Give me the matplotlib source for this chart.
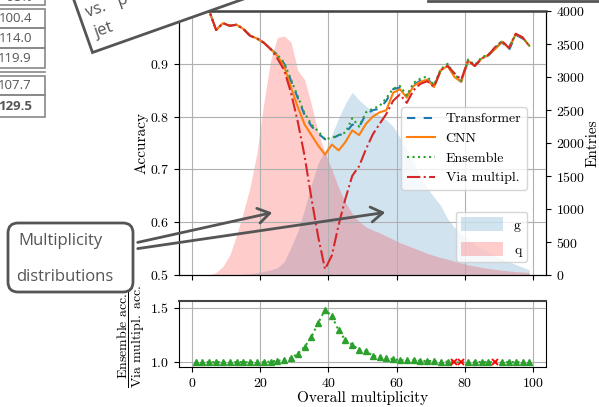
import numpy as np
import matplotlib
matplotlib.use("Agg")
import matplotlib.pyplot as plt
from matplotlib.patches import Polygon, FancyBboxPatch, FancyArrowPatch, Rectangle
from matplotlib.lines import Line2D
from matplotlib.transforms import Affine2D

plt.rcParams["font.family"] = "serif"
plt.rcParams["font.serif"] = ["cmr10"]
plt.rcParams["mathtext.fontset"] = "cm"
plt.rcParams["axes.formatter.use_mathtext"] = True
plt.rcParams["axes.unicode_minus"] = False

# bin centres of the overall multiplicity
mult = np.arange(1, 100, 2)

# accuracy per multiplicity bin
transformer = [1.0, 1.0, 1.0, 0.964, 0.977, 0.972, 0.974, 0.966, 0.953, 0.948, 0.940, 0.928,
               0.917, 0.900, 0.868, 0.835, 0.803, 0.782, 0.768, 0.757, 0.758, 0.765, 0.768, 0.785,
               0.780, 0.805, 0.812, 0.815, 0.830, 0.852, 0.855, 0.838, 0.860, 0.868, 0.872, 0.858,
               0.888, 0.897, 0.876, 0.866, 0.905, 0.896, 0.910, 0.916, 0.928, 0.941, 0.925, 0.955,
               0.948, 0.940]
cnn = [1.0, 1.0, 1.0, 0.964, 0.977, 0.972, 0.974, 0.966, 0.953, 0.948, 0.940, 0.928,
       0.915, 0.895, 0.855, 0.818, 0.785, 0.765, 0.745, 0.728, 0.747, 0.736, 0.752, 0.774,
       0.765, 0.786, 0.800, 0.808, 0.812, 0.845, 0.852, 0.836, 0.858, 0.866, 0.870, 0.856,
       0.888, 0.896, 0.875, 0.866, 0.906, 0.896, 0.910, 0.917, 0.928, 0.942, 0.930, 0.956,
       0.950, 0.934]
ensemble = [1.0, 1.0, 1.0, 0.964, 0.977, 0.972, 0.974, 0.966, 0.953, 0.948, 0.940, 0.928,
            0.917, 0.902, 0.870, 0.838, 0.806, 0.785, 0.772, 0.757, 0.760, 0.765, 0.770, 0.797,
            0.781, 0.808, 0.815, 0.820, 0.835, 0.853, 0.858, 0.840, 0.864, 0.872, 0.876, 0.860,
            0.890, 0.900, 0.880, 0.868, 0.908, 0.898, 0.912, 0.918, 0.930, 0.943, 0.930, 0.956,
            0.950, 0.934]
via_mult = [1.0, 1.0, 1.0, 0.964, 0.977, 0.972, 0.974, 0.966, 0.953, 0.948, 0.940, 0.928,
            0.910, 0.888, 0.845, 0.790, 0.725, 0.645, 0.572, 0.511, 0.537, 0.595, 0.645, 0.688,
            0.706, 0.738, 0.766, 0.786, 0.805, 0.830, 0.842, 0.826, 0.850, 0.862, 0.867, 0.856,
            0.888, 0.896, 0.882, 0.870, 0.906, 0.896, 0.910, 0.917, 0.932, 0.943, 0.930, 0.957,
            0.950, 0.934]

# ensemble / via-multiplicity accuracy ratio (lower panel)
ratio = [1.0, 1.0, 1.0, 1.0, 1.0, 1.0, 1.0, 1.0, 1.0, 1.0, 1.0, 1.005,
         1.012, 1.02, 1.036, 1.078, 1.14, 1.23, 1.36, 1.48, 1.42, 1.29, 1.20, 1.16,
         1.11, 1.10, 1.06, 1.045, 1.037, 1.027, 1.018, 1.015, 1.018, 1.012, 1.01, 1.008,
         1.005, 1.004, 0.998, 0.998, 1.002, 1.002, 1.001, 1.001, 0.998, 1.001, 1.0, 1.0,
         1.0, 1.0]

# multiplicity distributions (entries)
g_counts = [0, 0, 0, 0, 0, 0, 5, 10, 20, 35, 55, 80,
            110, 200, 420, 660, 1000, 1370, 1700, 1880, 2130, 2380, 2600, 2770,
            2650, 2560, 2480, 2420, 2350, 2250, 2080, 1900, 1700, 1500, 1320, 1180,
            1050, 850, 720, 620, 540, 460, 400, 340, 290, 240, 200, 160,
            120, 80]
q_counts = [0, 0, 0, 40, 130, 300, 600, 950, 1340, 1850, 2600, 3250,
            3600, 3620, 3530, 3100, 2960, 2580, 2160, 1850, 1600, 1320, 1100, 930,
            810, 730, 680, 640, 590, 540, 490, 450, 410, 370, 330, 295,
            265, 240, 210, 180, 155, 135, 115, 100, 85, 72, 62, 52,
            45, 38]

table_vals = ["100.4", "114.0", "119.9", "107.7", "129.5"]

W, H = 599, 407
fig = plt.figure(figsize=(W / 100, H / 100), dpi=100)
# pixel coords of the picture (y down) -> display
T = Affine2D().scale(1 / 100, -1 / 100).translate(0, H / 100) + fig.dpi_scale_trans


def frac(l, t, r, b):
    return [l / W, 1 - b / H, (r - l) / W, (b - t) / H]


ax = fig.add_axes(frac(179, 11, 546, 275))
axr = fig.add_axes(frac(179, 301, 546, 367))
ax2 = ax.twinx()
ax.set_zorder(ax2.get_zorder() + 1)
ax.patch.set_visible(False)

# distributions
fg = ax2.fill_between(mult, g_counts, color="C0", alpha=0.2, lw=0)
fq = ax2.fill_between(mult, q_counts, color="red", alpha=0.2, lw=0)
ax2.set_ylim(0, 4000)
ax2.set_yticks(range(0, 4001, 500))
ax2.set_ylabel("Entries", fontsize=11, labelpad=1)
ax2.tick_params(labelsize=10)

# accuracies
ax.plot(mult, transformer, color="C0", ls=(0, (4, 4)), lw=1.5, label="Transformer")
ax.plot(mult, cnn, color="C1", lw=1.5, label="CNN")
ax.plot(mult, ensemble, color="C2", ls=":", lw=1.5, label="Ensemble")
ax.plot(mult, via_mult, color="C3", ls="-.", lw=1.5, label="Via multipl.")
ax.set_xlim(-3.9, 103.9)
ax.set_ylim(0.5, 1.0)
ax.set_xticks(range(0, 101, 20))
ax.tick_params(labelbottom=False, labelsize=10)
ax.grid(True)
ax.set_ylabel("Accuracy", fontsize=11, labelpad=1)
ax.spines["top"].set_color("#444")
ax.spines["top"].set_linewidth(1.8)

leg1 = ax.legend(loc="upper right", bbox_to_anchor=(0.948, 0.636), borderaxespad=0, fontsize=10)
ax.add_artist(leg1)
ax.legend([fg, fq], ["g", "q"], loc="lower right", bbox_to_anchor=(0.948, 0.049),
          borderaxespad=0, fontsize=10, handlelength=3.0, handleheight=1.2, labelspacing=0.7)

# ratio panel
ratio = np.array(ratio)
ok = ratio >= 1
axr.plot(mult, ratio, color="C2", ls=":", lw=1.5)
axr.plot(mult[ok], ratio[ok], "^", color="C2", ms=5, ls="none")
axr.plot(mult[~ok], ratio[~ok], "x", color="red", ms=4, mew=1.3, ls="none")
axr.set_xlim(-3.9, 103.9)
axr.set_ylim(0.955, 1.56)
axr.set_xticks(range(0, 101, 20))
axr.set_yticks([1.0, 1.5])
axr.grid(True)
axr.tick_params(labelsize=10)
axr.set_xlabel("Overall multiplicity", fontsize=11, labelpad=1)
axr.set_ylabel(r"$\dfrac{\mathrm{Ensemble\ acc.}}{\mathrm{Via\ multipl.\ acc.}}$", fontsize=10,
               labelpad=2)
axr.spines["top"].set_color("#444")
axr.spines["top"].set_linewidth(1.5)

# slide decorations around the chart
gray = "#555555"
sans = "Open Sans"

# rotated box at the top
th = np.deg2rad(19.5)
u = np.array([np.cos(th), -np.sin(th)])
v = np.array([-np.sin(th), -np.cos(th)])
A = np.array([92.5, 52.5])
corners = [A, A + 600 * u, A + 600 * u + 200 * v, A + 200 * v]
fig.add_artist(Polygon(corners, closed=True, transform=T, fc="white", ec=gray, lw=2, zorder=5))
fig.text(88, 17, "vs.   p", transform=T, rotation=19.5, rotation_mode="anchor",
         ha="left", va="baseline", family=sans, fontsize=12, color=gray, zorder=6)
fig.text(97, 37, "jet", transform=T, rotation=19.5, rotation_mode="anchor",
         ha="left", va="baseline", family=sans, fontsize=12, color=gray, zorder=6)

# line of a box at the top right
fig.add_artist(Line2D([428, 610], [1, 1], transform=T, color=gray, lw=2, zorder=5))

# partial table at the top left
cells = [(-20, 5), (9, 28), (28, 48), (48, 68), (76, 95), (95, 117)]
for top, bot in cells:
    fig.add_artist(Rectangle((-20, top), 65, bot - top, transform=T, fc="none",
                             ec="#888888", lw=1.2, zorder=5))
fig.add_artist(Line2D([-20, 45], [72, 72], transform=T, color="#888888", lw=1.2, zorder=5))
fig.text(32, 4, "98%", transform=T, ha="right", va="bottom", family=sans,
         fontsize=9.5, color=gray, zorder=6)
for val, (top, bot) in zip(table_vals, cells[1:]):
    fig.text(32, (top + bot) / 2, val, transform=T, ha="right", va="center", family=sans,
             fontsize=9.5, color=gray, zorder=6,
             fontweight="bold" if val == "129.5" else "normal")

# "Multiplicity distributions" callout
fig.add_artist(FancyBboxPatch((8, 223), 125, 69, boxstyle="round,pad=0,rounding_size=10",
                              transform=T, fc="white", ec=gray, lw=2, zorder=5))
fig.text(18, 241, "Multiplicity", transform=T, ha="left", va="center", family=sans,
         fontsize=12, color=gray, zorder=6)
fig.text(16, 277, "distributions", transform=T, ha="left", va="center", family=sans,
         fontsize=12, color=gray, zorder=6)
for start, end in [((135, 243), (275, 212)), ((135, 249), (388, 212))]:
    fig.add_artist(FancyArrowPatch(start, end, transform=T, arrowstyle="->,head_length=0.7,head_width=0.45",
                                   mutation_scale=12, color=gray, lw=2, zorder=6))

fig.savefig("out.png", dpi=100)
